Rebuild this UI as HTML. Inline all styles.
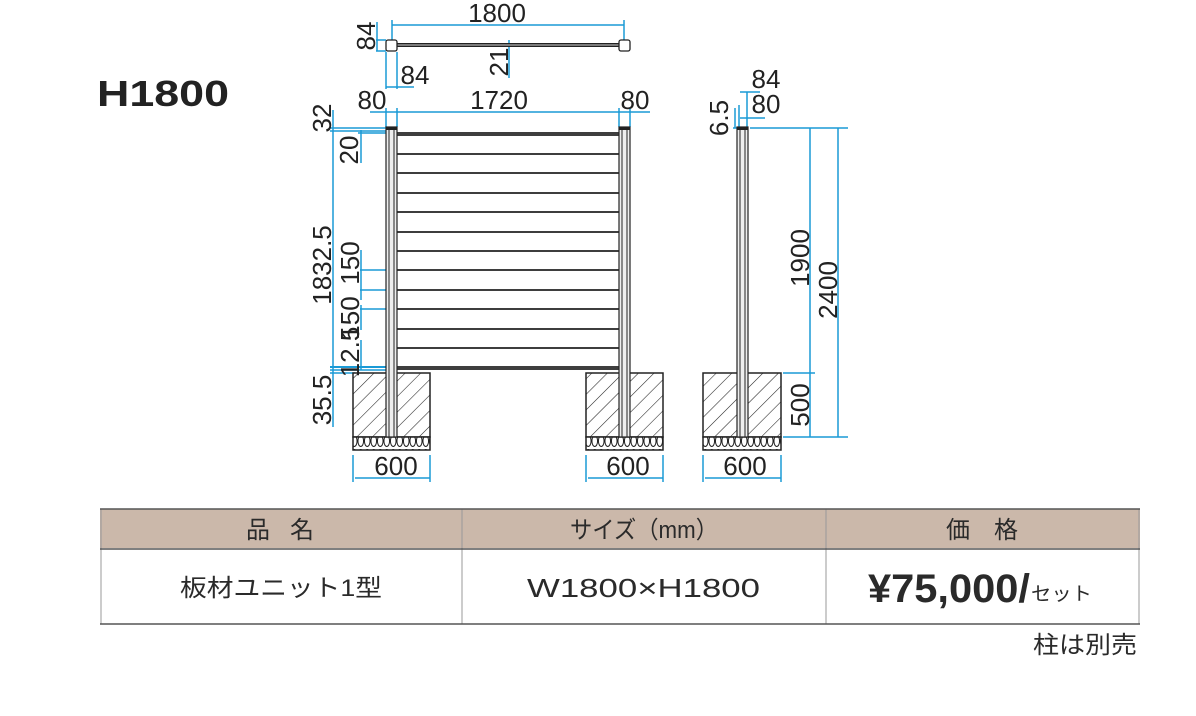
<!DOCTYPE html>
<html><head><meta charset="utf-8"><style>
body{margin:0;background:#fff;}
svg{display:block;}
text{font-family:"Liberation Sans","Noto Sans CJK JP",sans-serif;}
</style></head><body>
<svg width="1196" height="716" viewBox="0 0 1196 716" xmlns="http://www.w3.org/2000/svg">
<defs>
<pattern id="h" width="11" height="11" patternUnits="userSpaceOnUse" patternTransform="rotate(45)">
<rect width="11" height="11" fill="#fff"/><line x1="0" y1="0" x2="0" y2="11" stroke="#222" stroke-width="1.1"/>
</pattern>
<pattern id="c" width="6.5" height="14" patternUnits="userSpaceOnUse">
<rect width="6.5" height="14" fill="#fff"/><ellipse cx="3.25" cy="7" rx="2.8" ry="5.5" fill="none" stroke="#222" stroke-width="1"/>
</pattern>
</defs>
<text x="97" y="106" font-size="36" font-weight="bold" fill="#222" textLength="132" lengthAdjust="spacingAndGlyphs">H1800</text>

<g stroke="#1a9ad6" stroke-width="1.5" fill="none">
<line x1="392" y1="25" x2="624" y2="25"/><line x1="392" y1="20" x2="392" y2="40"/><line x1="624" y1="20" x2="624" y2="40"/>
<line x1="376" y1="40" x2="386" y2="40"/><line x1="376" y1="51" x2="386" y2="51"/><line x1="377" y1="22" x2="377" y2="51"/>
<line x1="386" y1="52" x2="386" y2="89"/><line x1="397" y1="52" x2="397" y2="89"/><line x1="386" y1="87" x2="414" y2="87"/>
<line x1="509" y1="40" x2="509" y2="78"/>
<line x1="370" y1="112" x2="650" y2="112"/><line x1="386" y1="108" x2="386" y2="127"/><line x1="397" y1="108" x2="397" y2="127"/>
<line x1="619" y1="108" x2="619" y2="127"/><line x1="630" y1="108" x2="630" y2="127"/>
<line x1="333" y1="110" x2="333" y2="427"/>
<line x1="330" y1="128" x2="393" y2="128"/><line x1="330" y1="131" x2="395" y2="131"/><line x1="358" y1="133" x2="395" y2="133"/>
<line x1="361" y1="130" x2="361" y2="163"/>
<line x1="361" y1="250" x2="361" y2="300"/><line x1="361" y1="305" x2="361" y2="330"/><line x1="361" y1="340" x2="361" y2="370"/>
<line x1="360" y1="270" x2="395" y2="270"/><line x1="360" y1="290" x2="395" y2="290"/><line x1="360" y1="309" x2="395" y2="309"/>
<line x1="330" y1="367" x2="395" y2="367" stroke-width="2"/><line x1="330" y1="370" x2="395" y2="370"/><line x1="330" y1="373" x2="355" y2="373"/>
<line x1="353" y1="455" x2="353" y2="482"/><line x1="430" y1="455" x2="430" y2="482"/><line x1="355" y1="478" x2="430" y2="478"/>
<line x1="586" y1="455" x2="586" y2="482"/><line x1="663" y1="455" x2="663" y2="482"/><line x1="588" y1="478" x2="663" y2="478"/>
<line x1="703" y1="455" x2="703" y2="482"/><line x1="781" y1="455" x2="781" y2="482"/><line x1="705" y1="478" x2="781" y2="478"/>
<line x1="740" y1="92" x2="760" y2="92"/><line x1="739" y1="105" x2="739" y2="128"/><line x1="747" y1="92" x2="747" y2="128"/><line x1="740" y1="118" x2="765" y2="118"/>
<line x1="735" y1="108" x2="735" y2="128"/><line x1="733" y1="128" x2="740" y2="128"/>
<line x1="750" y1="128" x2="848" y2="128"/><line x1="810" y1="128" x2="810" y2="437"/><line x1="838" y1="128" x2="838" y2="437"/>
<line x1="783" y1="373" x2="815" y2="373"/><line x1="783" y1="437" x2="848" y2="437"/>
</g>

<line x1="394" y1="45" x2="622" y2="45" stroke="#222" stroke-width="4"/>
<line x1="394" y1="45" x2="622" y2="45" stroke="#999" stroke-width="1.5"/>
<rect x="386" y="40" width="11" height="11" rx="2" fill="#fff" stroke="#222" stroke-width="1.3"/>
<rect x="619" y="40" width="11" height="11" rx="2" fill="#fff" stroke="#222" stroke-width="1.3"/>

<g stroke="#222" stroke-width="1.5">
<rect x="353" y="373" width="77" height="64" fill="url(#h)"/><rect x="353" y="437" width="77" height="13" fill="url(#c)"/>
<rect x="586" y="373" width="77" height="64" fill="url(#h)"/><rect x="586" y="437" width="77" height="13" fill="url(#c)"/>
<rect x="703" y="373" width="78" height="64" fill="url(#h)"/><rect x="703" y="437" width="78" height="13" fill="url(#c)"/>
</g>

<g fill="#eee" stroke="#222" stroke-width="1.2">
<rect x="386" y="127" width="11" height="310"/><rect x="619" y="127" width="11" height="310"/><rect x="737" y="127" width="11" height="310"/>
</g>
<g stroke="#222" stroke-width="1">
<line x1="389" y1="128" x2="389" y2="437"/><line x1="394" y1="128" x2="394" y2="437"/>
<line x1="622" y1="128" x2="622" y2="437"/><line x1="627" y1="128" x2="627" y2="437"/>
<line x1="740" y1="128" x2="740" y2="437"/><line x1="745" y1="128" x2="745" y2="437"/>
</g>
<rect x="386" y="127" width="11" height="3" fill="#222"/><rect x="619" y="127" width="11" height="3" fill="#222"/><rect x="737" y="127" width="11" height="3" fill="#222"/>

<g stroke="#222" stroke-width="1.8">
<line x1="397" y1="133" x2="619" y2="133"/><line x1="397" y1="135" x2="619" y2="135"/>
<line x1="397" y1="154" x2="619" y2="154"/><line x1="397" y1="173" x2="619" y2="173"/><line x1="397" y1="193" x2="619" y2="193"/>
<line x1="397" y1="212" x2="619" y2="212"/><line x1="397" y1="232" x2="619" y2="232"/><line x1="397" y1="251" x2="619" y2="251"/>
<line x1="397" y1="270" x2="619" y2="270"/><line x1="397" y1="290" x2="619" y2="290"/><line x1="397" y1="309" x2="619" y2="309"/>
<line x1="397" y1="329" x2="619" y2="329"/><line x1="397" y1="348" x2="619" y2="348"/><line x1="397" y1="367" x2="619" y2="367"/><line x1="397" y1="369" x2="619" y2="369"/>
</g>

<g font-size="26" fill="#222" text-anchor="middle">
<text x="497" y="22">1800</text>
<text x="499" y="109">1720</text>
<text x="372" y="109">80</text>
<text x="635" y="109">80</text>
<text x="415" y="84">84</text>
<text x="766" y="88">84</text>
<text x="766" y="113">80</text>
<text x="396" y="475">600</text>
<text x="628" y="475">600</text>
<text x="745" y="475">600</text>
<text transform="translate(375,36) rotate(-90)">84</text>
<text transform="translate(508,62) rotate(-90)">21</text>
<text transform="translate(331,118) rotate(-90)">32</text>
<text transform="translate(358,150) rotate(-90)">20</text>
<text transform="translate(331,265) rotate(-90)">1832.5</text>
<text transform="translate(359,263) rotate(-90)">150</text>
<text transform="translate(359,318) rotate(-90)">150</text>
<text transform="translate(359,352) rotate(-90)">12.5</text>
<text transform="translate(331,400) rotate(-90)">35.5</text>
<text transform="translate(728,118) rotate(-90)">6.5</text>
<text transform="translate(809,258) rotate(-90)">1900</text>
<text transform="translate(837,290) rotate(-90)">2400</text>
<text transform="translate(809,405) rotate(-90)">500</text>
</g>

<rect x="100" y="509" width="1040" height="39" fill="#cbb8aa"/>
<g stroke="#999" stroke-width="1">
<line x1="101" y1="509" x2="101" y2="624"/><line x1="462" y1="509" x2="462" y2="624"/>
<line x1="826" y1="509" x2="826" y2="624"/><line x1="1139" y1="509" x2="1139" y2="624"/>
</g>
<g stroke="#555" stroke-width="1.5">
<line x1="100" y1="509" x2="1140" y2="509"/><line x1="100" y1="549" x2="1140" y2="549"/><line x1="100" y1="624" x2="1140" y2="624"/>
</g>
<g fill="#2a2a2a" font-size="24">
<text x="246" y="538" textLength="68" lengthAdjust="spacing">品 名</text>
<text x="570" y="538" textLength="148" lengthAdjust="spacingAndGlyphs">サイズ（mm）</text>
<text x="946" y="538" textLength="72" lengthAdjust="spacing">価 格</text>
<text x="180" y="596" textLength="202" lengthAdjust="spacingAndGlyphs">板材ユニット1型</text>
<text x="527" y="597" font-size="26" textLength="233" lengthAdjust="spacingAndGlyphs">W1800×H1800</text>
</g>
<text x="868" y="602" font-size="40" font-weight="bold" fill="#2a2a2a" textLength="162" lengthAdjust="spacingAndGlyphs">¥75,000/</text>
<text x="1031" y="600" font-size="19" fill="#2a2a2a" textLength="61" lengthAdjust="spacingAndGlyphs">セット</text>
<text x="1033" y="653" font-size="24" fill="#2a2a2a" textLength="104" lengthAdjust="spacingAndGlyphs">柱は別売</text>
</svg>
</body></html>
